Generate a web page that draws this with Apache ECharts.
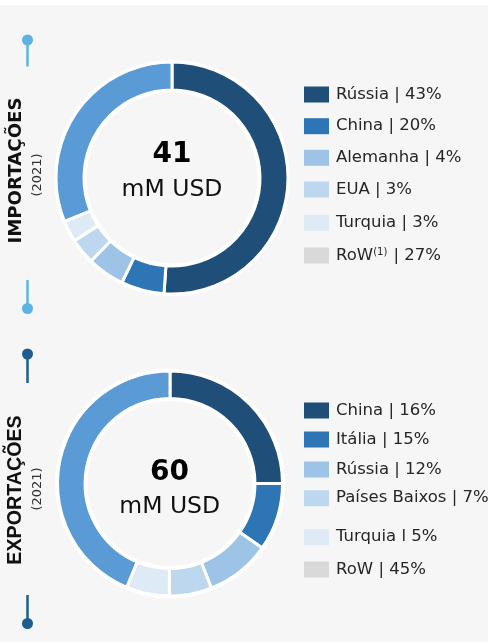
<!DOCTYPE html>
<html>
<head>
<meta charset="utf-8">
<script src="https://cdn.jsdelivr.net/npm/echarts@6/dist/echarts.min.js"></script>
<style>
html,body{margin:0;padding:0;background:#fff}
#main{width:488px;height:642px;background:linear-gradient(#fff 0,#fff 5px,#f6f6f6 5px)}
</style>
</head>
<body>
<div id="main"></div>
<script>
// legend labels (as printed) and slice sizes (as drawn, % of ring)
var impNames = ['Rússia | 43%', 'China | 20%', 'Alemanha | 4%', 'EUA | 3%', 'Turquia | 3%', 'RoW | 27%']
var impValues = [51.1, 6.0, 5.2, 3.6, 3.0, 31.1]
var expNames = ['China | 16%', 'Itália | 15%', 'Rússia | 12%', 'Países Baixos | 7%', 'Turquia l 5%', 'RoW | 45%']
var expValues = [25.0, 9.7, 9.3, 6.1, 6.2, 43.7]
var impTotal = '41'
var expTotal = '60'
var unit = 'mM USD'
var year = '(2021)'

var sliceColors = ['#1f4e79', '#2e75b6', '#9dc3e6', '#bdd7ee', '#deebf7', '#5b9bd5']
var keyColors = ['#1f4e79', '#2e75b6', '#9dc3e6', '#bdd7ee', '#deebf7', '#d9d9d9']
var impKeyY = [94, 125.7, 157.3, 189, 222.3, 255]
var expKeyY = [410, 439, 469, 497.7, 536.7, 569]

var chart = echarts.init(document.getElementById('main'), null, {renderer: 'canvas'})

function pieSeries(names, values, center, radius) {
  return {
    type: 'pie',
    center: center,
    radius: radius,
    startAngle: 90,
    clockwise: true,
    silent: true,
    z: 3,
    label: {show: false},
    labelLine: {show: false},
    itemStyle: {borderColor: '#fff', borderWidth: 3},
    data: names.map(function (n, i) {
      return {name: n, value: values[i], itemStyle: {color: sliceColors[i]}}
    })
  }
}

function keys(names, ys, supRow) {
  return names.map(function (n, i) {
    return {
      left: 304,
      top: ys[i] - 8,
      padding: 0,
      selectedMode: false,
      icon: 'rect',
      itemWidth: 25,
      itemHeight: 16,
      data: [{name: n, itemStyle: {color: keyColors[i], borderWidth: 0}}],
      formatter: function (name) {
        if (supRow && name.indexOf('RoW') === 0) return name.replace('RoW', 'RoW{sup|(1)}')
        return name
      },
      textStyle: {
        fontFamily: 'DejaVu Sans',
        fontSize: 16.5,
        lineHeight: 16,
        color: '#262626',
        padding: [0, 0, 0, 2],
        rich: {sup: {fontFamily: 'DejaVu Sans', fontSize: 10, color: '#262626', padding: [0, 1, 7, 0]}}
      }
    }
  })
}

function pin(color, yTop, yBot) {
  return [
    {type: 'line', shape: {x1: 27.5, y1: yTop, x2: 27.5, y2: yBot}, style: {stroke: color, lineWidth: 2.5}},
    {type: 'circle', shape: {cx: 27.5, cy: yTop, r: 5.5}, style: {fill: color}},
  ]
}
function pinDown(color, yTop, yBot) {
  return [
    {type: 'line', shape: {x1: 27.5, y1: yTop, x2: 27.5, y2: yBot}, style: {stroke: color, lineWidth: 2.5}},
    {type: 'circle', shape: {cx: 27.5, cy: yBot, r: 5.5}, style: {fill: color}},
  ]
}

function txt(s, x, y, font, fill, rot) {
  return {
    type: 'text', x: x, y: y, rotation: rot || 0,
    style: {text: s, font: font, fill: fill, align: 'center', verticalAlign: 'middle'}
  }
}

var graphics = []
  .concat([
    {type: 'ring', shape: {cx: 172, cy: 178, r: 118, r0: 85.5}, style: {fill: '#fff'}, z: 1},
    {type: 'ring', shape: {cx: 170, cy: 483.5, r: 115, r0: 82.5}, style: {fill: '#fff'}, z: 1}
  ])
  .concat(pin('#5cb3e4', 40, 66.5))
  .concat(pinDown('#5cb3e4', 280, 308.5))
  .concat(pin('#1b5e8f', 354, 383))
  .concat(pinDown('#1b5e8f', 595, 623.5))
  .concat([
    txt('IMPORTAÇÕES', 16.5, 170.5, 'bold 18.2px "DejaVu Sans"', '#111', Math.PI / 2),
    txt(year, 37.5, 175, '13px "DejaVu Sans"', '#333', Math.PI / 2),
    txt('EXPORTAÇÕES', 16, 490, 'bold 19.7px "Liberation Sans"', '#111', Math.PI / 2),
    txt(year, 37.5, 489, '13px "DejaVu Sans"', '#333', Math.PI / 2),
    txt(impTotal, 172, 155, 'bold 28px "DejaVu Sans"', '#000'),
    txt(unit, 172, 190, '23.5px "DejaVu Sans"', '#111'),
    txt(expTotal, 169.5, 472.3, 'bold 28px "DejaVu Sans"', '#000'),
    txt(unit, 169.7, 506.7, '23.5px "DejaVu Sans"', '#111')
  ])

chart.setOption({
  animation: false,
  backgroundColor: 'transparent',
  legend: keys(impNames, impKeyY, true).concat(keys(expNames, expKeyY, false)),
  graphic: {elements: graphics},
  series: [
    pieSeries(impNames, impValues, [172, 178], [88, 116]),
    pieSeries(expNames, expValues, [170, 483.5], [85, 112.5])
  ]
})
</script>
</body>
</html>
